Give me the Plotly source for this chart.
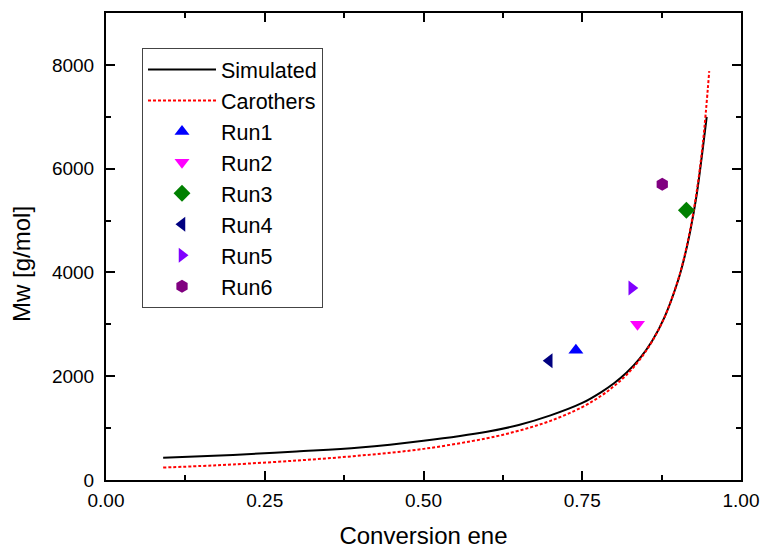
import plotly.graph_objects as go

# Simulated curve
sim_x = [0.09, 0.15, 0.2, 0.3, 0.4, 0.5, 0.6, 0.65, 0.7, 0.75, 0.78, 0.8, 0.82,
         0.84, 0.86, 0.88, 0.9, 0.91, 0.92, 0.93, 0.94, 0.946]
sim_y = [430, 457, 484, 550, 625, 755, 930, 1060, 1245, 1485, 1695, 1865, 2072,
         2335, 2680, 3150, 3810, 4245, 4795, 5480, 6400, 7000]

# Carothers curve
car_x = [0.09, 0.15, 0.2, 0.3, 0.4, 0.5, 0.6, 0.65, 0.7, 0.75, 0.78, 0.8, 0.82,
         0.84, 0.86, 0.88, 0.9, 0.91, 0.92, 0.93, 0.94, 0.95]
car_y = [240, 270, 300, 375, 470, 600, 805, 950, 1140, 1405, 1625, 1810, 2030,
         2310, 2670, 3150, 3820, 4265, 4825, 5540, 6500, 7880]

# Experimental runs
run_names = ["Run1", "Run2", "Run3", "Run4", "Run5", "Run6"]
run_x = [0.740, 0.837, 0.914, 0.698, 0.828, 0.876]
run_y = [2500, 3000, 5200, 2300, 3700, 5700]
run_symbols = ["triangle-up", "triangle-down", "diamond", "triangle-left", "triangle-right", "hexagon"]
run_colors = ["#0000FF", "#FF00FF", "#008000", "#000080", "#8000FF", "#800080"]
run_sizes = [13, 13, 13, 13, 13, 13]

x_ticks = [0.0, 0.25, 0.5, 0.75, 1.0]
x_tick_labels = ["0.00", "0.25", "0.50", "0.75", "1.00"]
y_ticks = [0, 2000, 4000, 6000, 8000]

FONT = "Liberation Sans, Arial, sans-serif"

fig = go.Figure()
fig.add_trace(go.Scatter(x=sim_x, y=sim_y, mode="lines", name="Simulated",
                         line=dict(color="black", width=2, shape="spline")))
fig.add_trace(go.Scatter(x=car_x, y=car_y, mode="lines", name="Carothers",
                         line=dict(color="#FF0000", width=2, dash="3px,2px", shape="spline")))
for n, xv, yv, s, c, sz in zip(run_names, run_x, run_y, run_symbols, run_colors, run_sizes):
    fig.add_trace(go.Scatter(x=[xv], y=[yv], mode="markers", name=n,
                             marker=dict(symbol=s, color=c, size=sz, line=dict(width=0))))

axis_common = dict(showline=True, linecolor="black", linewidth=2, mirror="allticks",
                   ticks="inside", ticklen=9, tickwidth=1.5, tickcolor="black",
                   showgrid=False, zeroline=False, automargin=False,
                   tickfont=dict(family=FONT, size=19, color="black"))

fig.update_xaxes(range=[0, 1], tickvals=x_ticks, ticktext=x_tick_labels,
                 minor=dict(ticks="inside", ticklen=5, tickwidth=1.5, dtick=0.125, tickcolor="black"),
                 title=dict(text="Conversion ene", font=dict(family=FONT, size=24, color="black"), standoff=17),
                 ticklabelstandoff=2,
                 **axis_common)
fig.update_yaxes(range=[0, 9000], tickvals=y_ticks,
                 minor=dict(ticks="inside", ticklen=5, tickwidth=1.5, dtick=1000, tickcolor="black"),
                 ticklabelstandoff=6,
                 **axis_common)

fig.add_annotation(text="Mw [g/mol]", textangle=-90, xref="paper", yref="paper",
                   x=-0.134, y=0.4625, xanchor="center", yanchor="middle", showarrow=False,
                   font=dict(family=FONT, size=24, color="black"))

fig.update_layout(
    width=764, height=550,
    margin=dict(l=106, r=23, t=13, b=70),
    plot_bgcolor="white", paper_bgcolor="white",
    font=dict(family=FONT, color="black"),
    legend=dict(x=0.0567, y=0.925, xanchor="left", yanchor="top",
                bgcolor="white", bordercolor="#444", borderwidth=1,
                font=dict(family=FONT, size=21.5, color="black"),
                itemwidth=68, tracegroupgap=0),
)

fig.write_html("out.html")
